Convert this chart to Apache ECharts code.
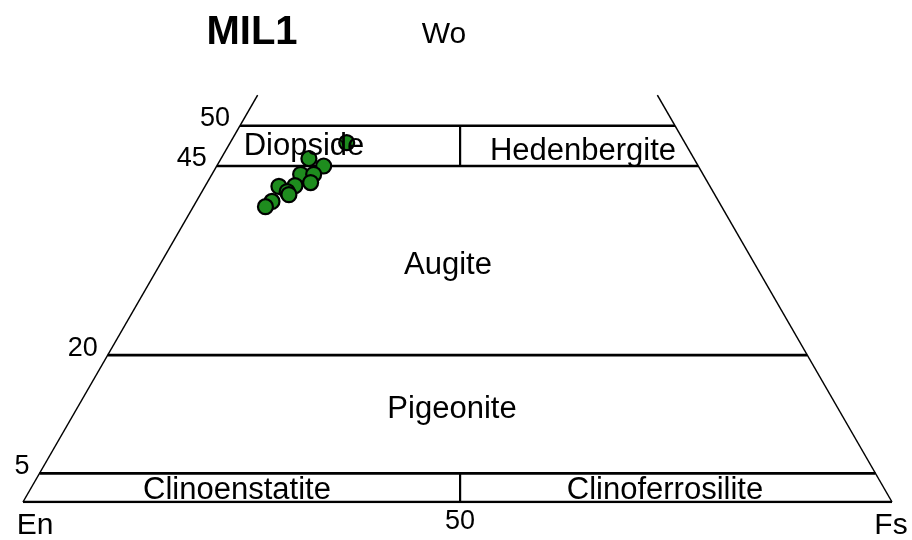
<!DOCTYPE html>
<html><head><meta charset="utf-8">
<script src="https://cdn.jsdelivr.net/npm/echarts@6/dist/echarts.min.js"></script>
<style>html,body{margin:0;padding:0;background:#fff}#c{width:912px;height:540px}</style>
</head><body><div id="c"></div>
<script>
// Sample compositions (mol %)
const wo = [47.7, 45.6, 44.6, 43.5, 43.5, 42.4, 42.0, 41.9, 41.2, 39.9, 39.2, 40.8];
const en = [38.9, 44.3, 43.1, 46.3, 44.8, 45.7, 47.7, 49.6, 49.0, 51.4, 52.5, 49.0];
const fs = [13.4, 10.1, 12.3, 10.2, 11.7, 11.9, 10.3, 8.5, 9.8, 8.7, 8.3, 10.2];
// Wo boundary lines (as drawn) and their tick labels
const woLines = [49.95, 44.6, 19.5, 3.8];
const woTickLabels = ['50', '45', '20', '5'];
const sideTopWo = 54;
const dividerX = 50.3;
const baseTickLabel = '50';
const fieldNames = ['Diopside', 'Hedenbergite', 'Augite', 'Pigeonite', 'Clinoenstatite', 'Clinoferrosilite'];

const FONT = '"Liberation Sans", Arial, sans-serif';
function toXY(w, e, f) { const s = w + e + f; const W = w / s * 100, F = f / s * 100; return [F + W / 2, W]; }

const pts = wo.map((w, i) => toXY(w, en[i], fs[i]));
const lineSeries = [];
function seg(a, b, width) {
  lineSeries.push({ type: 'line', data: [a, b], symbol: 'none', silent: true,
    lineStyle: { color: '#000', width: width }, z: 2, animation: false });
}
seg([0, 0], [100, 0], 2.6);
seg([0, 0], [sideTopWo / 2, sideTopWo], 1.5);
seg([100, 0], [100 - sideTopWo / 2, sideTopWo], 1.5);
woLines.forEach(w => seg([w / 2, w], [100 - w / 2, w], 2.6));
seg([dividerX, woLines[1]], [dividerX, woLines[0]], 2.2);
seg([dividerX, 0], [dividerX, woLines[3]], 2.2);

function txt(t, x, y, size, weight, align) {
  return { type: 'text', x: x, y: y, z: 10, silent: true, style: { text: t, fill: '#000',
    font: (weight || 'normal') + ' ' + size + 'px ' + FONT, textAlign: align || 'center', textVerticalAlign: 'middle' } };
}

const chart = echarts.init(document.getElementById('c'), null, { renderer: 'canvas' });
chart.setOption({
  animation: false,
  backgroundColor: '#fff',
  grid: { left: 23, right: 20, top: 50, bottom: 38 },
  xAxis: { type: 'value', min: 0, max: 100, show: false },
  yAxis: { type: 'value', min: 0, max: 60, show: false },
  series: lineSeries.concat([{
    type: 'scatter', data: pts, symbol: 'circle', symbolSize: 15, z: 5, silent: true,
    itemStyle: { color: '#1e8c1e', borderColor: '#000', borderWidth: 2.2, opacity: 1 }
  }])
});
// Tick labels placed through the chart's own scales
const g = [
  txt('MIL1', 252, 33, 40, 'bold'),
  txt('Wo', 444, 35, 30),
  txt('En', 35, 526, 30),
  txt('Fs', 891, 526, 30),
  txt(fieldNames[0], 304, 146, 31),
  txt(fieldNames[1], 583, 151, 31),
  txt(fieldNames[2], 448, 265, 31),
  txt(fieldNames[3], 452, 409, 31),
  txt(fieldNames[4], 237, 490, 31),
  txt(fieldNames[5], 665, 490, 31)
];
woLines.forEach((w, i) => {
  const p = chart.convertToPixel({ gridIndex: 0 }, [w / 2, w]);
  g.push(txt(woTickLabels[i], p[0] - 10, p[1] - 7, 27, 'normal', 'right'));
});
const bp = chart.convertToPixel({ gridIndex: 0 }, [dividerX, 0]);
g.push(txt(baseTickLabel, bp[0], bp[1] + 20, 27));
chart.setOption({ graphic: g });
</script></body></html>
